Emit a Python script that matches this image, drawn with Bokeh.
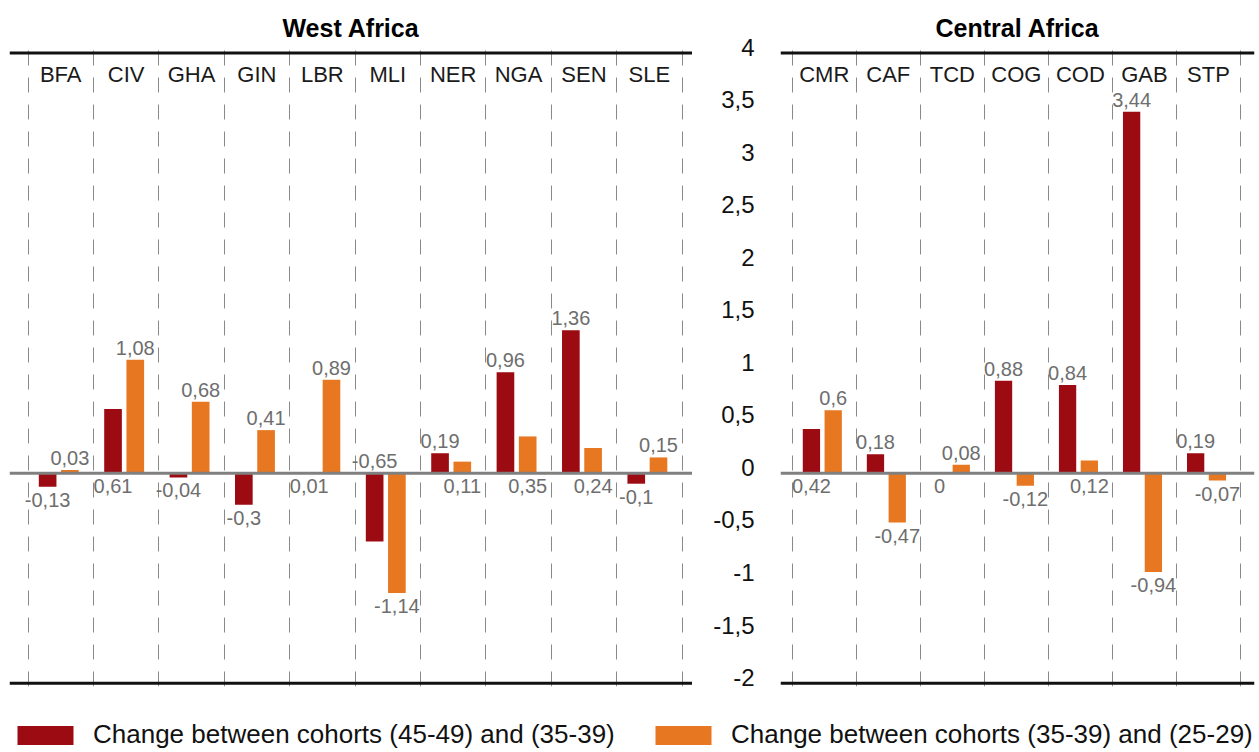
from bokeh.plotting import figure
from bokeh.layouts import column, row
from bokeh.models import (Range1d, FixedTicker, Grid, LinearAxis, Span, ColumnDataSource,
                          CustomJSTickFormatter, Legend, LegendItem)
from bokeh.core.properties import value
from bokeh.embed import file_html
from bokeh.resources import INLINE
import numpy as np

# ---------------- data ----------------
west_title = "West Africa"
west_cats = ["BFA", "CIV", "GHA", "GIN", "LBR", "MLI", "NER", "NGA", "SEN", "SLE"]
west_a = [-0.13, 0.61, -0.04, -0.3, 0.01, -0.65, 0.19, 0.96, 1.36, -0.1]
west_b = [0.03, 1.08, 0.68, 0.41, 0.89, -1.14, 0.11, 0.35, 0.24, 0.15]

central_title = "Central Africa"
central_cats = ["CMR", "CAF", "TCD", "COG", "COD", "GAB", "STP"]
central_a = [0.42, 0.18, 0, 0.88, 0.84, 3.44, 0.19]
central_b = [0.6, -0.47, 0.08, -0.12, 0.12, -0.94, -0.07]

series_names = ["Change between cohorts (45-49) and (35-39)",
                "Change between cohorts (35-39) and (25-29)"]
y_ticks = [-2, -1.5, -1, -0.5, 0, 0.5, 1, 1.5, 2, 2.5, 3, 3.5, 4]

# label placement (style): "end" = beyond bar end, "base" = other side of zero line
west_a_pos = ["end", "base", "end", "end", "base", "base", "end", "end", "end", "end"]
west_b_pos = ["end", "end", "end", "end", "end", "end", "base", "base", "base", "end"]
central_a_pos = ["base", "end", "base", "end", "end", "end", "end"]
central_b_pos = ["end", "end", "end", "end", "base", "end", "end"]

# ---------------- style ----------------
FONT = "Liberation Sans"
RED = "#9d0b12"
ORANGE = "#e87722"
VAL_GREY = "#6e6e6e"
Y0, Y1 = -2.03, 4.08
OFF_A, OFF_B, BW = 0.30, 0.64, 0.27
LAB_SHIFT = 0.055


def fmt(v):
    return f"{v:g}".replace(".", ",")


def panel(title, cats, a, b, a_pos, b_pos, pad_l, pad_r, frame_w, border_l, border_r):
    n = len(cats)
    p = figure(width=border_l + frame_w + border_r, height=694,
               x_range=Range1d(-pad_l, n + pad_r), y_range=Range1d(Y0, Y1),
               x_axis_type=None, y_axis_type=None, toolbar_location=None,
               output_backend="svg", min_border_left=border_l, min_border_right=border_r,
               min_border_top=44, min_border_bottom=8, outline_line_color=None,
               background_fill_color="white", border_fill_color="white")
    p.title.text = title
    p.title.align = "center"
    p.title.text_font = FONT
    p.title.text_font_size = "25px"
    p.title.text_font_style = "bold"
    p.title.text_color = "#000000"
    p.title.standoff = 6

    grid = Grid(dimension=0, ticker=FixedTicker(ticks=list(range(n + 1))),
                grid_line_color="#8a8a8a", grid_line_width=1, grid_line_dash="15 12")
    p.add_layout(grid)

    xs = np.arange(n)
    src = ColumnDataSource(dict(xa=xs + OFF_A, xb=xs + OFF_B, a=a, b=b))
    p.vbar(x="xa", top="a", bottom=0, width=BW, source=src, fill_color=RED, line_color=None)
    p.vbar(x="xb", top="b", bottom=0, width=BW, source=src, fill_color=ORANGE, line_color=None)

    p.add_layout(Span(location=0, dimension="width", line_color="#808080", line_width=3))
    p.add_layout(Span(location=4, dimension="width", line_color="#111111", line_width=3))
    p.add_layout(Span(location=-2, dimension="width", line_color="#111111", line_width=3))

    p.text(x=xs + 0.5, y=[3.79] * n, text=cats, text_align="center", text_baseline="middle",
           text_font=value(FONT), text_font_size="22px", text_color="#1a1a1a")

    up = dict(x=[], y=[], t=[])
    dn = dict(x=[], y=[], t=[])
    for vals, pos, off in ((a, a_pos, OFF_A), (b, b_pos, OFF_B)):
        for i, (v, m) in enumerate(zip(vals, pos)):
            yy = v if m == "end" else 0
            above = (v >= 0) == (m == "end")
            d = up if above else dn
            d["x"].append(i + off)
            d["y"].append(yy)
            d["t"].append(fmt(v))
    p.text(x="x", y="y", text="t", source=ColumnDataSource(up), text_align="center",
           text_baseline="bottom", y_offset=-5, text_font=value(FONT),
           text_font_size="20px", text_color=VAL_GREY)
    p.text(x="x", y="y", text="t", source=ColumnDataSource(dn), text_align="center",
           text_baseline="top", y_offset=6, text_font=value(FONT),
           text_font_size="20px", text_color=VAL_GREY)
    return p


left = panel(west_title, west_cats, west_a, west_b, west_a_pos, west_b_pos,
             pad_l=0.283, pad_r=0.16, frame_w=683, border_l=9, border_r=0)
right = panel(central_title, central_cats, central_a, central_b, central_a_pos, central_b_pos,
              pad_l=0.183, pad_r=0.219, frame_w=474, border_l=88, border_r=5)

right.extra_y_ranges = {"lab": Range1d(Y0 - LAB_SHIFT, Y1 - LAB_SHIFT)}
ax = LinearAxis(y_range_name="lab", ticker=FixedTicker(ticks=y_ticks),
                formatter=CustomJSTickFormatter(code="return tick.toString().replace('.', ',')"),
                axis_line_color=None, major_tick_line_color=None, minor_tick_line_color=None,
                major_tick_out=0, major_tick_in=0, major_label_standoff=26,
                major_label_text_font=FONT, major_label_text_font_size="24px",
                major_label_text_color="#111111")
right.add_layout(ax, "left")

# ---------------- legend ----------------
lg = figure(width=1259, height=58, x_range=Range1d(0, 1), y_range=Range1d(0, 1),
            x_axis_type=None, y_axis_type=None, toolbar_location=None, output_backend="svg",
            min_border=0, outline_line_color=None)
lsrc = ColumnDataSource(dict(x=np.arange(len(west_cats)), a=west_a, b=west_b))
r1 = lg.vbar(x="x", top="a", width=0.27, source=lsrc, fill_color=RED, line_color=None)
r2 = lg.vbar(x="x", top="b", width=0.27, source=lsrc, fill_color=ORANGE, line_color=None)
r1.visible = False
r2.visible = False
for r, name, lx in ((r1, series_names[0], 10), (r2, series_names[1], 648)):
    leg = Legend(items=[LegendItem(label=name, renderers=[r])], location=(lx, 2),
                 orientation="horizontal", glyph_width=70, glyph_height=24, label_standoff=13,
                 padding=0, margin=0, border_line_color=None, background_fill_alpha=0,
                 label_text_font=FONT, label_text_font_size="26px", label_text_color="#111111",
                 label_height=24, click_policy="none")
    lg.add_layout(leg)

layout = column(row(left, right), lg)
open("out.html", "w").write(file_html(layout, INLINE))
